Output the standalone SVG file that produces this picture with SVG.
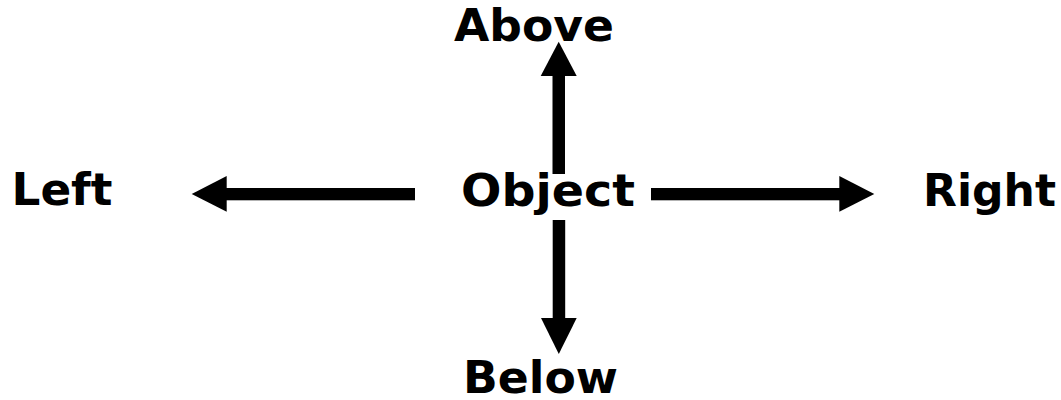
<svg xmlns="http://www.w3.org/2000/svg" width="1061" height="400" viewBox="0 0 1061 400">
<style>
.lbl{font-family:"DejaVu Sans","Verdana",sans-serif;font-weight:bold;font-size:44px;fill:#000;text-anchor:middle}
.shaft{fill:#000}
</style>
<rect width="1061" height="400" fill="#fff"/>
<g id="connectors">
<g id="arrow-up"><rect class="shaft" x="552.5" y="74" width="12.5" height="100"/><polygon points="558.7,41.7 540.7,76 576.7,76"/></g>
<g id="arrow-down"><rect class="shaft" x="552.7" y="220" width="12.5" height="100"/><polygon points="558.8,354 541,318 576.7,318"/></g>
<g id="arrow-left"><rect class="shaft" x="224" y="188" width="191" height="12.3"/><polygon points="191.7,194 226.7,176 226.7,211.7"/></g>
<g id="arrow-right"><rect class="shaft" x="651" y="188" width="190" height="12.3"/><polygon points="874.3,194 839.3,176 839.3,211.7"/></g>
</g>
<g id="node-object"><text class="lbl" x="548" y="206" textLength="174" lengthAdjust="spacingAndGlyphs">Object</text></g>
<g id="node-above"><text class="lbl" x="534" y="41" textLength="160" lengthAdjust="spacingAndGlyphs">Above</text></g>
<g id="node-below"><text class="lbl" x="540.5" y="393" textLength="155" lengthAdjust="spacingAndGlyphs">Below</text></g>
<g id="node-left"><text class="lbl" x="62" y="205" textLength="101" lengthAdjust="spacingAndGlyphs">Left</text></g>
<g id="node-right"><text class="lbl" x="989.5" y="206" textLength="133" lengthAdjust="spacingAndGlyphs">Right</text></g>
</svg>
